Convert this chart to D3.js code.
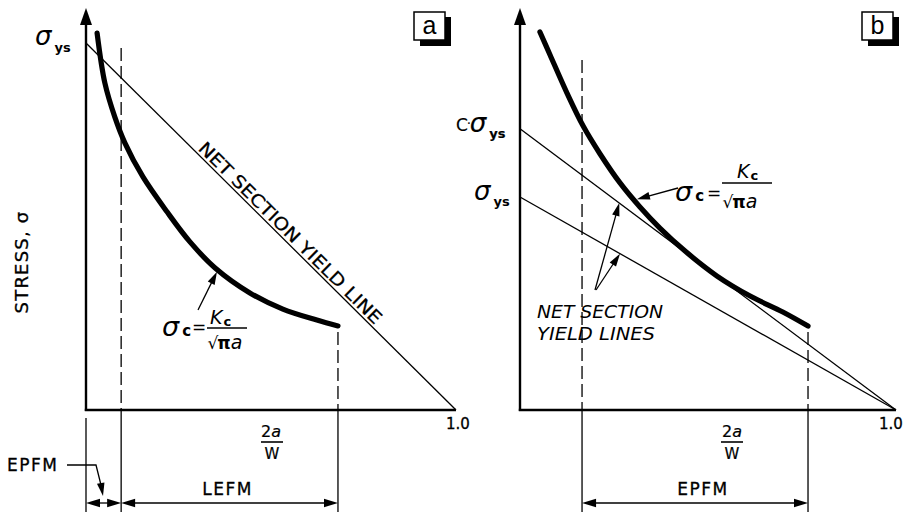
<!DOCTYPE html>
<html><head><meta charset="utf-8">
<script src="https://cdn.jsdelivr.net/npm/d3@7"></script>
<style>body{margin:0;background:#fff}svg{display:block}</style>
</head><body>
<svg id="c" width="906" height="512"></svg>
<script>
// ---------- data (stress as fraction of σys, crack length as 2a/W) ----------
const crackA  = [0.030,0.051,0.078,0.105,0.154,0.219,0.281,0.349,0.443,0.532,0.624,0.681];
const stressA = [1.027,0.891,0.798,0.728,0.635,0.540,0.458,0.387,0.319,0.275,0.245,0.229];
const crackB  = [0.053,0.080,0.125,0.168,0.213,0.266,0.319,0.372,0.439,0.524,0.612,0.699,0.766];
const stressB = [1.775,1.667,1.488,1.333,1.202,1.066,0.953,0.854,0.746,0.629,0.535,0.460,0.394];
const yieldInterceptA = [1.0];          // σys
const yieldInterceptB = [1.32, 1.0];    // C·σys, σys
const limitsA = [0.095, 0.681];         // EPFM | LEFM boundaries
const limitsB = [0.165, 0.766];         // EPFM range
const xEndLabel = "1.0";
const regionLabelsA = ["EPFM", "LEFM"];
const regionLabelsB = ["EPFM"];
const panelLabels = ["a", "b"];

// ---------- scales ----------
const xA = d3.scaleLinear().domain([0, 1]).range([86, 456]);
const yA = d3.scaleLinear().domain([0, 1]).range([410, 43]);
const xB = d3.scaleLinear().domain([0, 1]).range([520, 896]);
const yB = d3.scaleLinear().domain([0, 1]).range([410, 197]);

const svg = d3.select("#c");
const FONT = "'DejaVu Sans', sans-serif";

function head(g, tx, ty, fx, fy, len, hw) {
  const a = Math.atan2(ty - fy, tx - fx);
  const bx = tx - len * Math.cos(a), by = ty - len * Math.sin(a);
  const px = -Math.sin(a) * hw, py = Math.cos(a) * hw;
  g.append("path").attr("d", `M${tx},${ty}L${bx+px},${by+py}L${bx-px},${by-py}Z`).attr("fill", "#000");
}
function seg(g, x1, y1, x2, y2, w, dash) {
  const l = g.append("line").attr("x1", x1).attr("y1", y1).attr("x2", x2).attr("y2", y2)
    .attr("stroke", "#000").attr("stroke-width", w);
  if (dash) l.attr("stroke-dasharray", dash);
  return l;
}
function txt(g, x, y, s, size, opts = {}) {
  const t = g.append("text").attr("x", x).attr("y", y).text(s)
    .attr("font-family", opts.family || FONT).attr("font-size", size).attr("fill", "#000");
  if (opts.italic) t.attr("font-style", "italic");
  if (opts.bold) t.attr("font-weight", "bold");
  if (opts.anchor) t.attr("text-anchor", opts.anchor);
  if (opts.ls) t.attr("letter-spacing", opts.ls);
  if (opts.tl) t.attr("textLength", opts.tl).attr("lengthAdjust", "spacingAndGlyphs");
  if (opts.sw) t.attr("stroke", "#000").attr("stroke-width", opts.sw);
  return t;
}
function leader(g, x1, y1, x2, y2) {
  const a = Math.atan2(y2 - y1, x2 - x1);
  seg(g, x1, y1, x2 - 10 * Math.cos(a), y2 - 10 * Math.sin(a), 1.3);
  head(g, x2, y2, x1, y1, 13, 3.8);
}
function dimArrow(g, xl, xr, y) {
  seg(g, xl + 8, y, xr - 8, y, 1.3);
  head(g, xl, y, xr, y, 14, 4.2);
  head(g, xr, y, xl, y, 14, 4.2);
}
function panelBox(g, x, y, label) {
  g.append("rect").attr("x", x + 6).attr("y", y + 5).attr("width", 31).attr("height", 29).attr("fill", "#000");
  g.append("rect").attr("x", x).attr("y", y).attr("width", 31).attr("height", 28)
    .attr("fill", "#fff").attr("stroke", "#000").attr("stroke-width", 1.5);
  txt(g, x + 15.5, y + 22, label, 25, { anchor: "middle", family: "'Liberation Sans', Arial, sans-serif" });
}
function sigmaSub(g, x, y, sub, big, small, subDy) {
  const t = txt(g, x, y, "", big, {});
  t.append("tspan").attr("font-style", "italic").text("σ");
  t.append("tspan").attr("font-size", small).attr("font-weight", "bold").attr("dx", 3).attr("dy", subDy).text(sub);
  return t;
}
function formula(g, f) {
  sigmaSub(g, f.sx, f.sy, "c", 27, 15, 0);
  txt(g, f.ex, f.ey, "=", 17);
  seg(g, f.b1, f.by, f.b2, f.by, 1.6);
  const k = txt(g, f.kx, f.by - 4 + f.kd, "", 19, {});
  k.append("tspan").attr("font-style", "italic").text("K");
  k.append("tspan").attr("font-size", 13).attr("font-weight", "bold").attr("dx", 1).attr("dy", 2).text("c");
  const d = txt(g, f.b1 + 0.5, f.by + 20 + f.dd, "", 17, {});
  d.append("tspan").text("√");
  d.append("tspan").attr("font-weight", "bold").attr("dx", -1).text("π");
  d.append("tspan").attr("font-style", "italic").attr("font-size", 19).text("a");
}
function curvePath(g, xs, ys, sx, sy) {
  const line = d3.line().x((d, i) => sx(xs[i])).y((d, i) => sy(ys[i])).curve(d3.curveCatmullRom.alpha(0.5));
  g.append("path").datum(xs).attr("d", line).attr("fill", "none").attr("stroke", "#000")
    .attr("stroke-width", 5.2).attr("stroke-linecap", "round");
}

// ================= PANEL A =================
const gA = svg.append("g");
seg(gA, xA(0), yA(0) + 1, xA(0), 20, 2.4);
head(gA, xA(0), 8, xA(0), 100, 17, 6);
seg(gA, xA(0) - 1.2, yA(0), xA(1), yA(0), 2.4);
seg(gA, xA(0), yA(yieldInterceptA[0]), xA(1), yA(0), 1.3);
curvePath(gA, crackA, stressA, xA, yA);
seg(gA, xA(limitsA[0]), 48, xA(limitsA[0]), yA(0), 1.3, "13,5");
seg(gA, xA(limitsA[0]), yA(0), xA(limitsA[0]), 512, 1.3);
seg(gA, xA(limitsA[1]), yA(stressA[stressA.length - 1]) + 6, xA(limitsA[1]), yA(0), 1.3, "13,5");
seg(gA, xA(limitsA[1]), yA(0), xA(limitsA[1]), 512, 1.3);
seg(gA, xA(0), 418, xA(0), 512, 1.3);
dimArrow(gA, xA(0), xA(limitsA[0]), 503);
dimArrow(gA, xA(limitsA[0]), xA(limitsA[1]), 503);
txt(gA, (xA(limitsA[0]) + xA(limitsA[1])) / 2 - 2, 495, regionLabelsA[1], 17, { anchor: "middle", ls: 1.5, sw: 0.3 });
txt(gA, 7, 471, regionLabelsA[0], 17, { ls: 1.5, sw: 0.3 });
gA.append("path").attr("d", "M67,465H96L101,485").attr("fill", "none").attr("stroke", "#000").attr("stroke-width", 1.3);
head(gA, 103, 496, 100.5, 482, 13, 3.8);
sigmaSub(gA, 35, 45, "ys", 26, 13, 7);
txt(gA, xA(1) + 2, 429, xEndLabel, 15, { anchor: "middle", sw: 0.3 });
{
  const t = txt(gA, 271, 437, "", 16, { anchor: "middle", sw: 0.2 });
  t.append("tspan").text("2");
  t.append("tspan").attr("font-style", "italic").text("a");
}
seg(gA, 261, 442, 283, 442, 1.6);
txt(gA, 272, 459, "W", 15, { anchor: "middle", sw: 0.2 });
gA.append("text").attr("transform", "translate(28,262) rotate(-90)").attr("text-anchor", "middle")
  .attr("font-family", FONT).attr("font-size", 18).attr("letter-spacing", 1.2)
  .attr("stroke", "#000").attr("stroke-width", 0.3).text("STRESS, σ");
{
  const ang = Math.atan2(yA(0) - yA(1), xA(1) - xA(0)) * 180 / Math.PI;
  const t = 0.535;
  gA.append("text").attr("transform", `translate(${xA(t)},${yA(1 - t)}) rotate(${ang})`)
    .attr("text-anchor", "middle").attr("dy", -3).attr("font-family", FONT).attr("font-size", 17.5)
    .attr("textLength", 250).attr("lengthAdjust", "spacingAndGlyphs")
    .attr("stroke", "#000").attr("stroke-width", 0.25)
    .text("NET SECTION YIELD LINE");
}
formula(gA, { sx: 162, sy: 336, ex: 192, ey: 333, b1: 207, b2: 247, by: 328, kx: 210, kd: 0, dd: 1 });
leader(gA, 198, 310, xA(0.354), yA(0.377));
panelBox(gA, 414, 12, panelLabels[0]);

// ================= PANEL B =================
const gB = svg.append("g");
seg(gB, xB(0), yB(0) + 1, xB(0), 20, 2.4);
head(gB, xB(0), 8, xB(0), 100, 17, 6);
seg(gB, xB(0) - 1.2, yB(0), xB(1), yB(0), 2.4);
yieldInterceptB.forEach(v => seg(gB, xB(0), yB(v), xB(1), yB(0), 1.3));
curvePath(gB, crackB, stressB, xB, yB);
seg(gB, xB(limitsB[0]), 60, xB(limitsB[0]), yB(0), 1.3, "13,5");
seg(gB, xB(limitsB[0]), yB(0), xB(limitsB[0]), 512, 1.3);
seg(gB, xB(limitsB[1]), yB(stressB[stressB.length - 1]) + 6, xB(limitsB[1]), yB(0), 1.3, "13,5");
seg(gB, xB(limitsB[1]), yB(0), xB(limitsB[1]), 512, 1.3);
dimArrow(gB, xB(limitsB[0]), xB(limitsB[1]), 503);
txt(gB, 703, 495, regionLabelsB[0], 17, { anchor: "middle", ls: 1.5, sw: 0.3 });
{
  const t = txt(gB, 456, 131, "", 17, { sw: 0.2 });
  t.append("tspan").text("C");
  t.append("tspan").attr("dx", -1).attr("dy", -3).attr("font-size", 12).text("·");
  t.append("tspan").attr("dx", -1).attr("dy", 4).attr("font-size", 26).attr("font-style", "italic").text("σ");
  t.append("tspan").attr("dx", 3).attr("dy", 6).attr("font-size", 13).attr("font-weight", "bold").text("ys");
}
sigmaSub(gB, 474, 200, "ys", 26, 13, 6);
txt(gB, xB(1) - 5, 429, xEndLabel, 15, { anchor: "middle", sw: 0.3 });
{
  const t = txt(gB, 732, 437, "", 16, { anchor: "middle", sw: 0.2 });
  t.append("tspan").text("2");
  t.append("tspan").attr("font-style", "italic").text("a");
}
seg(gB, 721, 442, 743, 442, 1.6);
txt(gB, 732, 459, "W", 15, { anchor: "middle", sw: 0.2 });
txt(gB, 537, 318, "NET SECTION", 18, { italic: true, tl: 126 });
txt(gB, 537, 340, "YIELD LINES", 18, { italic: true, tl: 118 });
leader(gB, 595, 290, xB(0.264), yB(1.32 * (1 - 0.264)));
leader(gB, 596, 290, xB(0.266), yB(1 - 0.266));
formula(gB, { sx: 675, sy: 201, ex: 707, ey: 199, b1: 722, b2: 772, by: 183, kx: 737, kd: -1, dd: 5 });
leader(gB, 678, 188, xB(0.311), yB(0.99));
panelBox(gB, 862, 12, panelLabels[1]);
</script>
</body></html>
